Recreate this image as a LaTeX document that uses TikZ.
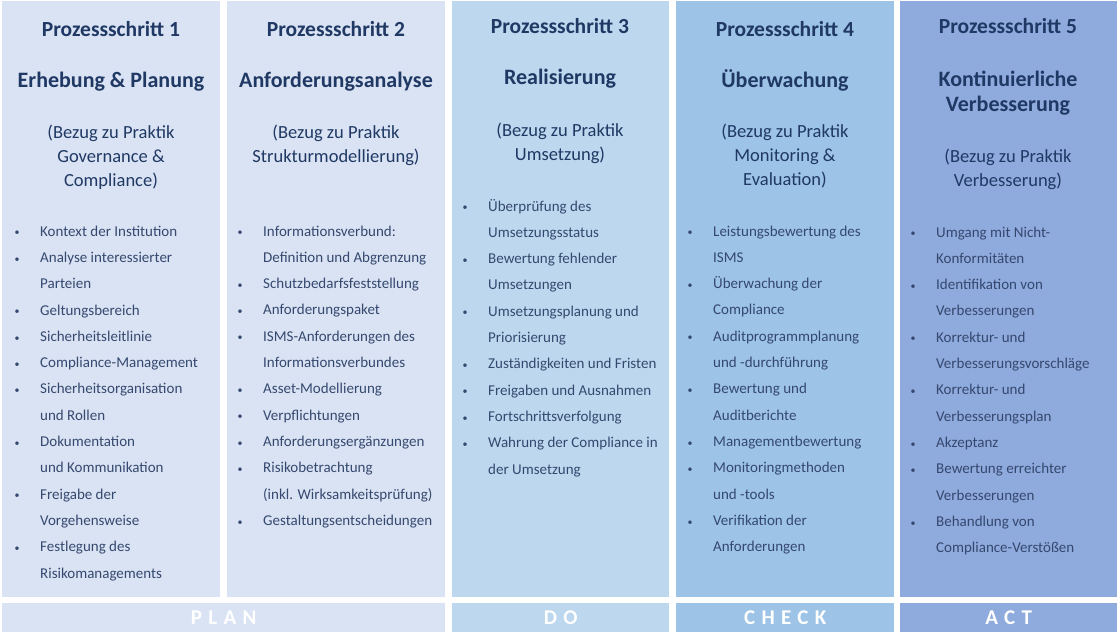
\documentclass[tikz,border=0pt]{standalone}
\usepackage{fontspec}
\setmainfont{Carlito}
\definecolor{stepA}{HTML}{DAE3F3}
\definecolor{stepC}{HTML}{BDD7EE}
\definecolor{stepD}{HTML}{9DC3E6}
\definecolor{stepE}{HTML}{8FAADC}
\definecolor{headcol}{HTML}{1F3864}
\definecolor{bodycol}{HTML}{35486F}
\newcommand{\bul}{\makebox[25pt][l]{\hspace*{-0.5pt}\raisebox{0.3pt}{\fontsize{10}{10}\selectfont\textbullet}}}
\newcommand{\ind}{\hspace*{25pt}}
\begin{document}
\begin{tikzpicture}[x=1pt,y=-1pt,
    colbox/.style = {fill=#1, draw=none, anchor=north west, inner sep=0pt, minimum height=596pt},
    barbox/.style = {fill=#1, draw=none, anchor=north west, inner sep=0pt, minimum height=29pt,
        text=white, font=\fontsize{21}{21}\selectfont\bfseries\addfontfeature{LetterSpace=30}},
    stephead/.style = {anchor=base, text=headcol, font=\fontsize{21.5}{21.5}\selectfont\bfseries},
    stepname/.style = {anchor=base, text=headcol, align=center, font=\fontsize{22}{25}\selectfont\bfseries},
    stepref/.style = {anchor=base, text=headcol, align=center, font=\fontsize{18.5}{24.3}\selectfont},
    steplist/.style = {anchor=base west, text=bodycol, align=left, inner sep=0pt, font=\fontsize{15}{26.3}\selectfont}]
    \useasboundingbox (0,0) rectangle (1120,633);
    % columns
    \node[colbox=stepA, minimum width=218pt] (s1) at (2,1) {};
    \node[colbox=stepA, minimum width=218pt] (s2) at (227,1) {};
    \node[colbox=stepC, minimum width=217pt] (s3) at (452,1) {};
    \node[colbox=stepD, minimum width=218pt] (s4) at (676,1) {};
    \node[colbox=stepE, minimum width=217pt] (s5) at (900,1) {};
    % phases
    \node[barbox=stepA, minimum width=443pt] (plan) at (2,603) {PLAN};
    \node[barbox=stepC, minimum width=217pt] (do) at (452,603) {DO};
    \node[barbox=stepD, minimum width=218pt] (check) at (676,603) {CHECK};
    \node[barbox=stepE, minimum width=217pt] (act) at (900,603) {ACT};
    % step 1 (multi-line nodes sit on their last baseline)
    \node[stephead] (h1) at (111,36) {Prozessschritt 1};
    \node[stepname] (n1) at (111,87) {Erhebung \& Planung};
    \node[stepref] (r1) at (111,186.6) {(Bezug zu Praktik\\Governance \&\\Compliance)};
    \node[steplist] (l1) at (15,578) {\bul Kontext der Institution\\ \bul Analyse interessierter\\ \ind Parteien\\
        \bul Geltungsbereich\\ \bul Sicherheitsleitlinie\\ \bul Compliance-Management\\
        \bul Sicherheitsorganisation\\ \ind und Rollen\\ \bul Dokumentation\\ \ind und Kommunikation\\
        \bul Freigabe der\\ \ind Vorgehensweise\\ \bul Festlegung des\\ \ind Risikomanagements};
    % step 2
    \node[stephead] (h2) at (336,36) {Prozessschritt 2};
    \node[stepname] (n2) at (336,87) {Anforderungsanalyse};
    \node[stepref] (r2) at (336,162.3) {(Bezug zu Praktik\\Strukturmodellierung)};
    \node[steplist] (l2) at (238,525.3) {\bul Informationsverbund:\\ \ind Definition und Abgrenzung\\
        \bul Schutzbedarfsfeststellung\\ \bul Anforderungspaket\\ \bul ISMS-Anforderungen des\\
        \ind Informationsverbundes\\ \bul Asset-Modellierung\\ \bul Verpflichtungen\\
        \bul Anforderungsergänzungen\\ \bul Risikobetrachtung\\ \ind (inkl. Wirksamkeitsprüfung)\\
        \bul Gestaltungsentscheidungen};
    % step 3
    \node[stephead] (h3) at (560,33) {Prozessschritt 3};
    \node[stepname] (n3) at (560,84) {Realisierung};
    \node[stepref] (r3) at (560,160.3) {(Bezug zu Praktik\\Umsetzung)};
    \node[steplist] (l3) at (463,474) {\bul Überprüfung des\\ \ind Umsetzungsstatus\\ \bul Bewertung fehlender\\
        \ind Umsetzungen\\ \bul Umsetzungsplanung und\\ \ind Priorisierung\\
        \bul Zuständigkeiten und Fristen\\ \bul Freigaben und Ausnahmen\\ \bul Fortschrittsverfolgung\\
        \bul Wahrung der Compliance in\\ \ind der Umsetzung};
    % step 4
    \node[stephead] (h4) at (785,36) {Prozessschritt 4};
    \node[stepname] (n4) at (785,87) {Überwachung};
    \node[stepref] (r4) at (785,185.6) {(Bezug zu Praktik\\Monitoring \&\\Evaluation)};
    \node[steplist] (l4) at (688,551.6) {\bul Leistungsbewertung des\\ \ind ISMS\\ \bul Überwachung der\\
        \ind Compliance\\ \bul Auditprogrammplanung\\ \ind und -durchführung\\ \bul Bewertung und\\
        \ind Auditberichte\\ \bul Managementbewertung\\ \bul Monitoringmethoden\\ \ind und -tools\\
        \bul Verifikation der\\ \ind Anforderungen};
    % step 5
    \node[stephead] (h5) at (1008,33) {Prozessschritt 5};
    \node[stepname] (n5) at (1008,111) {Kontinuierliche\\Verbesserung};
    \node[stepref] (r5) at (1008,186.3) {(Bezug zu Praktik\\Verbesserung)};
    \node[steplist] (l5) at (911,552.6) {\bul Umgang mit Nicht-\\ \ind Konformitäten\\ \bul Identifikation von\\
        \ind Verbesserungen\\ \bul Korrektur- und\\ \ind Verbesserungsvorschläge\\ \bul Korrektur- und\\
        \ind Verbesserungsplan\\ \bul Akzeptanz\\ \bul Bewertung erreichter\\ \ind Verbesserungen\\
        \bul Behandlung von\\ \ind Compliance-Verstößen};
\end{tikzpicture}
\end{document}
